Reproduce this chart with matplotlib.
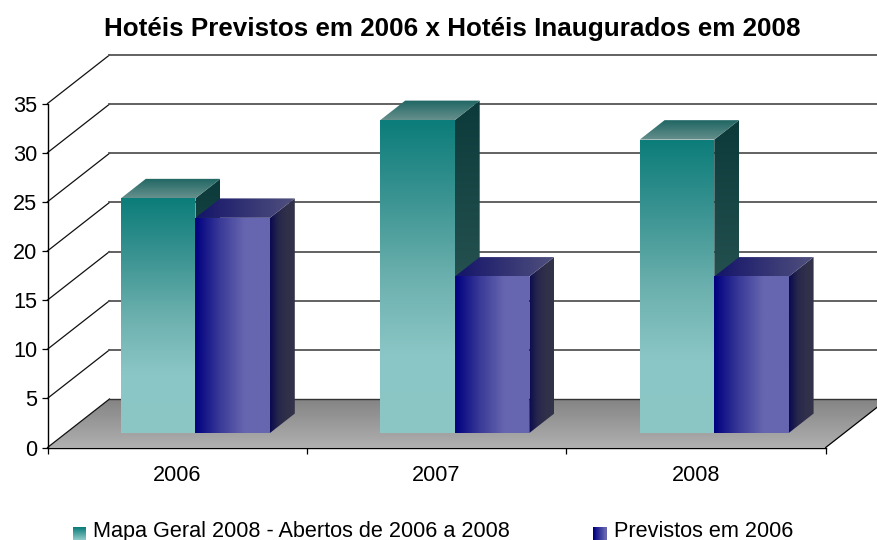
import numpy as np
import matplotlib
matplotlib.use("Agg")
import matplotlib.pyplot as plt
from matplotlib.colors import LinearSegmentedColormap as LSC
from matplotlib.legend_handler import HandlerBase
from matplotlib.patches import Patch, Polygon, Rectangle

plt.rcParams['font.family'] = ['Liberation Sans', 'DejaVu Sans']

categories = ['2006', '2007', '2008']
mapa_geral = [24, 32, 30]
previstos = [22, 16, 16]
series_names = ['Mapa Geral 2008 - Abertos de 2006 a 2008', 'Previstos em 2006']
title = 'Hotéis Previstos em 2006 x Hotéis Inaugurados em 2008'
yticks = [0, 5, 10, 15, 20, 25, 30, 35]

W, H = 877, 540
L, R, B, T = 47.5, 825.7, 447.5, 103.5
fig = plt.figure(figsize=(W / 100, H / 100), dpi=100)
ax = fig.add_axes([L / W, 1 - B / H, (R - L) / W, (B - T) / H])
XMAX, YMAX = 3.0, 35.0
DX = 62 / ((R - L) / XMAX)   # depth offset in category units
DY = 48.5 / ((B - T) / YMAX)  # depth offset in value units
BAR_SCALE = 0.995             # bars rise a touch less than the wall scale


def pt(x, y, z):
    return (x + z * DX, y + z * DY)


def grad_poly(verts, colors, horizontal, zorder):
    """Fill polygon with a linear gradient through colors."""
    xs, ys = zip(*verts)
    cmap = LSC.from_list('g', colors)
    g = np.linspace(0, 1, 128)
    arr = g[None, :] if horizontal else g[:, None]
    im = ax.imshow(arr, cmap=cmap, aspect='auto', origin='upper', vmin=0, vmax=1,
                   extent=[min(xs), max(xs), min(ys), max(ys)], zorder=zorder,
                   interpolation='bilinear')
    im.set_clip_path(Polygon(verts, closed=True, transform=ax.transData))
    im.set_clip_box(fig.bbox)


def box(x0, x1, h, z0, z1, front, side, top, horizontal, zorder):
    h = h * BAR_SCALE
    grad_poly([pt(x1, 0, z0), pt(x1, h, z0), pt(x1, h, z1), pt(x1, 0, z1)], side, horizontal, zorder)
    grad_poly([pt(x0, h, z0), pt(x1, h, z0), pt(x1, h, z1), pt(x0, h, z1)], top, horizontal, zorder)
    grad_poly([pt(x0, 0, z0), pt(x1, 0, z0), pt(x1, h, z0), pt(x0, h, z0)], front, horizontal, zorder + 0.05)


# floor
grad_poly([pt(0, 0, 0), pt(XMAX, 0, 0), pt(XMAX, 0, 1), pt(0, 0, 1)],
          ['#848484', '#b0b0b0'], False, 1)
ax.plot(*zip(pt(0, 0, 1), pt(XMAX, 0, 1)), color='#333333', lw=1.0, zorder=1.5, clip_on=False)
ax.plot(*zip(pt(XMAX, 0, 0), pt(XMAX, 0, 1)), color='black', lw=0.9, zorder=1.5, clip_on=False)

# gridlines
for v in yticks:
    ax.plot(*zip(pt(0, v, 0), pt(0, v, 1)), color='#111111', lw=0.9, zorder=1.2, clip_on=False)
    if v > 0:
        ax.plot(*zip(pt(0, v, 1), pt(XMAX, v, 1)), color='#555555', lw=1.3, zorder=1.2, clip_on=False)

# bars
gap = 0.2116
w = 0.2872
teal_front = ['#0c7d7a', '#3b9492', '#6bb0ae', '#8ac6c5', '#8cc7c6']
teal_side = ['#0c3a3a', '#3a6664']
teal_top = ['#1f6664', '#66908c']
blue_front = ['#000080', '#3a3a98', '#6666b0', '#6666b0']
blue_side = ['#0a0a50', '#26264c', '#30304a', '#32324a']
blue_top = ['#14146a', '#50507e']
for i in range(len(categories)):
    xs = i + gap
    box(xs, xs + w, mapa_geral[i], 0.3, 0.7, teal_front, teal_side, teal_top, False, 2 + i)
    box(xs + w, xs + 2 * w, previstos[i], 0.3, 0.7, blue_front, blue_side, blue_top, True, 2.2 + i)

ax.set_xlim(0, XMAX)
ax.set_ylim(0, YMAX)
ax.patch.set_visible(False)
for s in ['top', 'right']:
    ax.spines[s].set_visible(False)
for s in ['left', 'bottom']:
    ax.spines[s].set_linewidth(1.0)
    ax.spines[s].set_zorder(10)
ax.set_yticks(yticks)
ax.set_xticks(range(len(categories) + 1))
ax.set_xticklabels([])
ax.set_xticks(np.arange(len(categories)) + 0.5, minor=True)
ax.set_xticklabels(categories, minor=True)
ax.tick_params(axis='x', which='minor', length=0, pad=12.5, labelsize=15.6)
ax.tick_params(axis='x', which='major', length=4.5, width=0.9)
ax.tick_params(axis='y', length=4.5, width=0.9, labelsize=15.6, pad=3)

fig.text(452 / W, 1 - 29 / H, title, ha='center', va='center', fontsize=18.7, fontweight='bold', color='black')


class GradHandler(HandlerBase):
    def __init__(self, colors, horizontal):
        super().__init__()
        self.colors, self.horizontal = colors, horizontal

    def create_artists(self, legend, orig, xd, yd, width, height, fontsize, trans):
        cmap = LSC.from_list('g', self.colors)
        size = 9.4
        x0 = width - size
        y0 = -2.2
        out = []
        n = 13
        for k in range(n):
            c = cmap(k / (n - 1))
            if self.horizontal:
                r = Rectangle((x0 + k * size / n, y0), size / n + .2, size, fc=c, ec='none', transform=trans)
            else:
                r = Rectangle((x0, y0 + size - (k + 1) * size / n), size, size / n + .2, fc=c, ec='none', transform=trans)
            out.append(r)
        return out


h1, h2 = Patch(label=series_names[0]), Patch(label=series_names[1])
fig.legend(handles=[h1, h2], ncol=2, frameon=False, fontsize=15.6,
           loc='lower left', bbox_to_anchor=(73 / W, -2.0 / H), borderpad=0, borderaxespad=0,
           handlelength=0.6, handletextpad=0.33, columnspacing=3.85,
           handler_map={h1: GradHandler(['#0c7d7a', '#8cc7c6'], False),
                        h2: GradHandler(['#000080', '#6666b0'], True)})
fig.savefig('out.png', dpi=100)
